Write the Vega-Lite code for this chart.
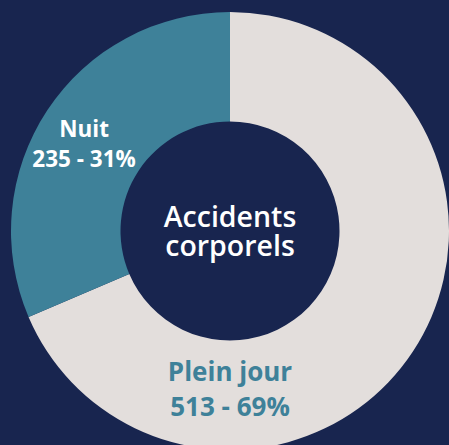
{
  "$schema": "https://vega.github.io/schema/vega-lite/v6.json",
  "width": 460,
  "height": 462,
  "padding": 0,
  "autosize": {"type": "none"},
  "background": "#18254f",
  "config": {"view": {"stroke": null}},
  "datasets": {
    "slices": [
      {"cat": "Plein jour", "n": 513, "ord": 1},
      {"cat": "Nuit", "n": 235, "ord": 2}
    ],
    "nuitLabel": [{"label": "Nuit\n235 - 31%", "angle": 304.7, "r": 177.5}],
    "jourLabel": [{"label": "Plein jour\n513 - 69%", "angle": 180, "r": 142}],
    "centerLabel": [{"label": "Accidents\ncorporels", "angle": 0, "r": 13}]
  },
  "layer": [
    {
      "data": {"name": "slices"},
      "mark": {"type": "arc", "outerRadius": 219, "innerRadius": 109.5},
      "encoding": {
        "theta": {"field": "n", "type": "quantitative", "stack": true},
        "order": {"field": "ord", "type": "quantitative"},
        "color": {
          "field": "cat",
          "type": "nominal",
          "scale": {"domain": ["Plein jour", "Nuit"], "range": ["#e3dedc", "#3e8199"]},
          "legend": null
        }
      }
    },
    {
      "data": {"name": "nuitLabel"},
      "mark": {"type": "text", "lineBreak": "\n", "font": "Open Sans", "fontWeight": "bold", "fontSize": 22.5, "lineHeight": 30, "color": "#ffffff", "align": "center", "baseline": "middle"},
      "encoding": {
        "theta": {"field": "angle", "type": "quantitative", "stack": null, "scale": {"domain": [0, 360], "range": [0, 6.283185]}},
        "radius": {"field": "r", "type": "quantitative", "scale": {"type": "linear", "domain": [0, 230], "range": [0, 230], "zero": true}},
        "text": {"field": "label", "type": "nominal"}
      }
    },
    {
      "data": {"name": "jourLabel"},
      "mark": {"type": "text", "lineBreak": "\n", "font": "Open Sans", "fontWeight": "bold", "fontSize": 26, "lineHeight": 35, "color": "#3e8199", "align": "center", "baseline": "middle"},
      "encoding": {
        "theta": {"field": "angle", "type": "quantitative", "stack": null, "scale": {"domain": [0, 360], "range": [0, 6.283185]}},
        "radius": {"field": "r", "type": "quantitative", "scale": {"type": "linear", "domain": [0, 230], "range": [0, 230], "zero": true}},
        "text": {"field": "label", "type": "nominal"}
      }
    },
    {
      "data": {"name": "centerLabel"},
      "mark": {"type": "text", "lineBreak": "\n", "font": "Open Sans", "fontWeight": 600, "fontSize": 28.5, "lineHeight": 28.5, "color": "#ffffff", "align": "center", "baseline": "middle"},
      "encoding": {
        "theta": {"field": "angle", "type": "quantitative", "stack": null, "scale": {"domain": [0, 360], "range": [0, 6.283185]}},
        "radius": {"field": "r", "type": "quantitative", "scale": {"type": "linear", "domain": [0, 230], "range": [0, 230], "zero": true}},
        "text": {"field": "label", "type": "nominal"}
      }
    }
  ],
  "resolve": {"scale": {"theta": "independent", "radius": "independent", "color": "independent"}}
}
